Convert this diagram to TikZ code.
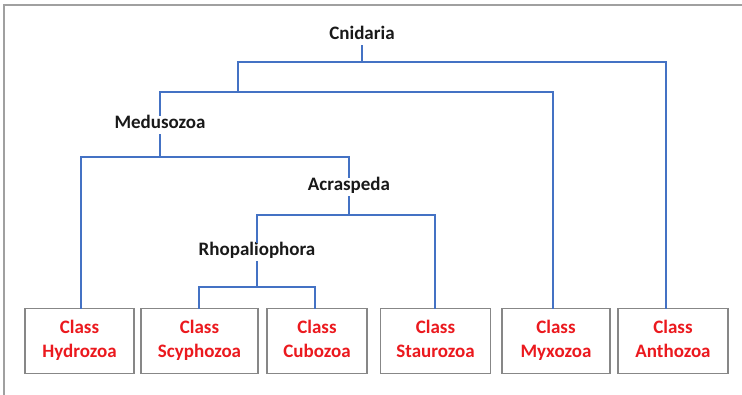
\documentclass[tikz,border=0pt]{standalone}
\usepackage{fontspec}
\setmainfont{Carlito}
\definecolor{brblue}{RGB}{68,114,196}
\definecolor{clsred}{RGB}{235,25,30}
\definecolor{boxgray}{RGB}{135,135,135}
\definecolor{framegray}{RGB}{160,160,160}
\definecolor{lbl}{RGB}{25,25,25}
\tikzset{
  br/.style={draw=brblue, line width=2.8pt, line cap=rect, line join=miter},
  taxon/.style={font=\fontsize{19}{24}\selectfont\bfseries, text=lbl, anchor=base,
    text height=12pt, text depth=4pt, inner xsep=2pt, inner ysep=2pt},
  cls/.style={draw=boxgray, line width=1.6pt, fill=white, minimum height=65pt,
    align=center, font=\fontsize{19}{24}\selectfont\bfseries, text=clsred, inner sep=0pt},
}
\newcommand{\twoline}[2]{#1\strut\\#2\strut}
\begin{document}
\begin{tikzpicture}[x=1pt, y=-1pt]
\useasboundingbox (0,0) rectangle (742,395);
\fill[white] (0,0) rectangle (742,395);
\draw[framegray, line width=2pt] (4,395) -- (4,5) -- (742,5);

% class boxes
\node[cls, minimum width=109pt] (hyd) at (79.5,341) {\twoline{Class}{Hydrozoa}};
\node[cls, minimum width=117pt] (scy) at (199.5,341) {\twoline{Class}{Scyphozoa}};
\node[cls, minimum width=100pt] (cub) at (317,341) {\twoline{Class}{Cubozoa}};
\node[cls, minimum width=110pt] (sta) at (435.5,341) {\twoline{Class}{Staurozoa}};
\node[cls, minimum width=108pt] (myx) at (556,341) {\twoline{Class}{Myxozoa}};
\node[cls, minimum width=110pt] (ant) at (673,341) {\twoline{Class}{Anthozoa}};

% taxon labels
\node[taxon] (cn) at (362,40) {Cnidaria};
\node[taxon] (med) at (160,129) {Medusozoa};
\node[taxon] (acr) at (349,191) {Acraspeda};
\node[taxon] (rho) at (257,256) {Rhopaliophora};

% junctions
\coordinate (c1) at (238,62);
\coordinate (c2) at (666,62);
\coordinate (m1) at (160,92);
\coordinate (m2) at (553,92);
\coordinate (h1) at (81,157);
\coordinate (h2) at (349,157);
\coordinate (a1) at (257,215);
\coordinate (a2) at (435,215);
\coordinate (r1) at (199,287);
\coordinate (r2) at (315,287);

% branches
\draw[br] (cn) -- (cn |- c1);
\draw[br] (c1 |- m1) -- (c1) -- (c2) -- (c2 |- ant.north);
\draw[br] (med) -- (m1) -- (m2) -- (m2 |- myx.north);
\draw[br] (med) -- (med |- h1);
\draw[br] (h1 |- hyd.north) -- (h1) -- (h2) -- (acr);
\draw[br] (acr) -- (acr |- a1);
\draw[br] (rho) -- (a1) -- (a2) -- (a2 |- sta.north);
\draw[br] (rho) -- (rho |- r1);
\draw[br] (r1 |- scy.north) -- (r1) -- (r2) -- (r2 |- cub.north);
\end{tikzpicture}
\end{document}
